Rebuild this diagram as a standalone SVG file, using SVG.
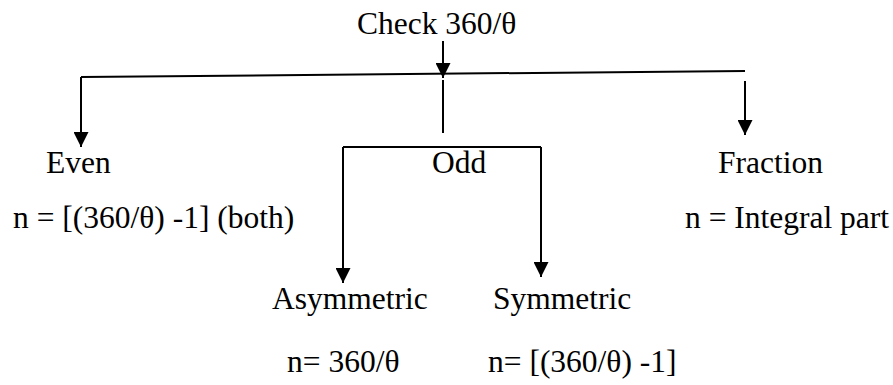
<svg xmlns="http://www.w3.org/2000/svg" width="893" height="385" viewBox="0 0 893 385">
  <style>
    .lbl { font-family: "Liberation Serif", "Times New Roman", serif; font-size: 31.5px; fill: #000; }
    .ln { fill: none; stroke: #000; stroke-width: 2; }
    .arr { fill: none; stroke: #000; stroke-width: 2; marker-end: url(#head); }
  </style>
  <defs>
    <marker id="head" markerUnits="userSpaceOnUse" markerWidth="15" markerHeight="15" refX="15" refY="7.5" orient="auto">
      <path d="M0,0 L15,7.5 L0,15 z" fill="#000"/>
    </marker>
  </defs>

  <rect width="893" height="385" fill="#fff"/>

  <!-- connectors -->
  <g id="connectors">
    <!-- from the check to the branch bar -->
    <path class="arr" d="M443,41 L443,78"/>
    <!-- branch bar -->
    <path class="ln" d="M81,77 L745,71"/>
    <!-- even branch -->
    <path class="arr" d="M81,77 L81,147"/>
    <!-- odd branch stem -->
    <path class="ln" d="M443,80 L443,133"/>
    <!-- fraction branch -->
    <path class="arr" d="M745,81 L745,135"/>
    <!-- odd split -->
    <path class="ln" d="M343,147 L541,147"/>
    <path class="arr" d="M343,147 L343,283"/>
    <path class="arr" d="M541,147 L541,277"/>
  </g>

  <g id="check">
    <text class="lbl" x="357" y="34">Check 360/θ</text>
  </g>
  <g id="even">
    <text class="lbl" x="46" y="173">Even</text>
    <text class="lbl" x="13" y="228">n = [(360/θ) -1] (both)</text>
  </g>
  <g id="odd">
    <text class="lbl" x="432" y="173">Odd</text>
  </g>
  <g id="fraction">
    <text class="lbl" x="718" y="173">Fraction</text>
    <text class="lbl" x="685" y="228">n = Integral part</text>
  </g>
  <g id="asymmetric">
    <text class="lbl" x="272" y="309">Asymmetric</text>
    <text class="lbl" x="287" y="372">n= 360/θ</text>
  </g>
  <g id="symmetric">
    <text class="lbl" x="493" y="309">Symmetric</text>
    <text class="lbl" x="488" y="372">n= [(360/θ) -1]</text>
  </g>
</svg>
